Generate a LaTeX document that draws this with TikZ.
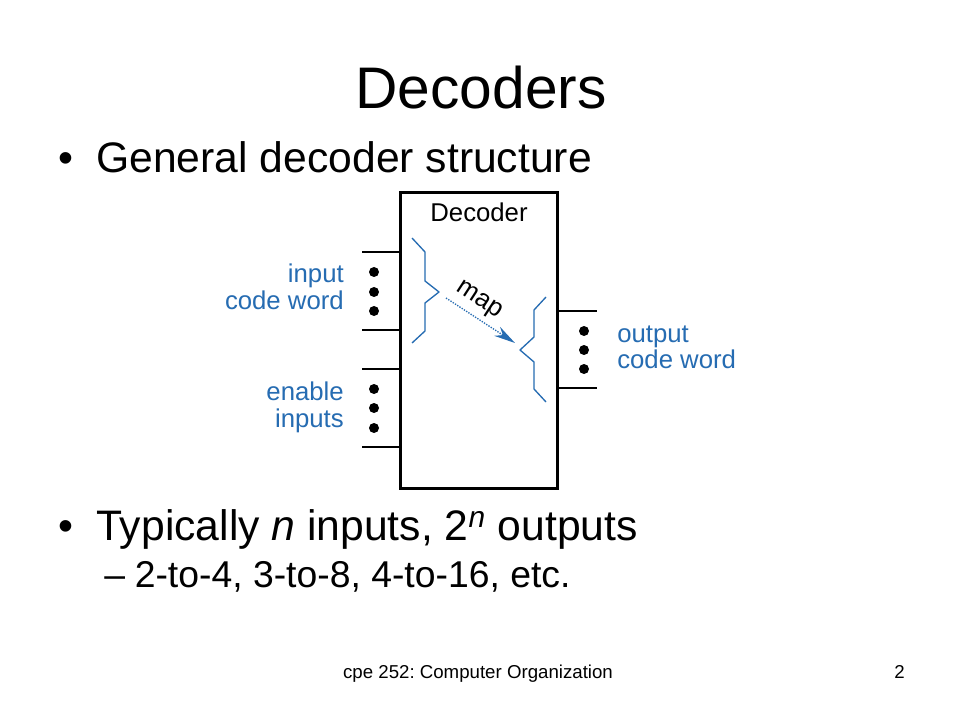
\documentclass[tikz,border=0pt]{standalone}
\usepackage{fontspec}
\setmainfont{Liberation Sans}
\usetikzlibrary{arrows.meta, calc}
\definecolor{codeblue}{RGB}{38,108,178}
\frenchspacing

\begin{document}
\begin{tikzpicture}[x=0.75pt, y=-0.75pt,
    slidetext/.style={inner sep=0pt, anchor=base west},
    lbl/.style={inner sep=0pt, text=codeblue, font=\fontsize{19.3}{20}\selectfont},
    wire/.style={line width=1.3pt},
    brace/.style={draw=codeblue, line width=1pt, line join=round}]
      \useasboundingbox (0,0) rectangle (960,720);
      \fill[white] (0,0) rectangle (960,720);

      % Slide title and bullets
      \node[anchor=base, inner sep=0pt, font=\fontsize{44}{50}\selectfont] (title) at (481,109) {Decoders};
      \node[slidetext, font=\fontsize{32}{38}\selectfont] (dotA) at (58,173) {•};
      \node[slidetext, font=\fontsize{32}{38}\selectfont] (itemA) at (96,173) {General decoder structure};
      \node[slidetext, font=\fontsize{32}{38}\selectfont] (dotB) at (58,540) {•};
      \node[slidetext, font=\fontsize{32}{38}\selectfont] (itemB) at (96,540) {Typically \textit{n} inputs, 2\textsuperscript{\textit{n}} outputs};
      \node[slidetext, font=\fontsize{28}{34}\selectfont] (dashC) at (104,587) {–};
      \node[slidetext, font=\fontsize{28}{34}\selectfont] (itemC) at (134.5,587) {2-to-4, 3-to-8, 4-to-16, etc.};

      % Decoder block
      \node[draw, line width=2.25pt, minimum width=117.75pt, minimum height=221.25pt] (dec) at (478.5,340.5) {};
      \node[anchor=base, inner sep=0pt, font=\fontsize{19.3}{20}\selectfont] (declbl) at (479,222) {Decoder};

      % Input and output wires
      \foreach \y [count=\i] in {252,330,369,447} {
        \coordinate (in\i) at (362,\y);
        \draw[wire] (in\i) -- (in\i -| dec.west);
      }
      \foreach \y [count=\i] in {311,388} {
        \coordinate (out\i) at (597,\y);
        \draw[wire] (out\i -| dec.east) -- (out\i);
      }

      % Dots between the wires
      \foreach \y in {272,292,311,389,408,428} \fill (374,\y) circle (5);
      \foreach \y in {331,350,369} \fill (584,\y) circle (5);

      % Wire labels
      \node[lbl, anchor=base east] (inA) at (344,283) {input};
      \node[lbl, anchor=base east] (inB) at (344,310) {code word};
      \node[lbl, anchor=base east] (enA) at (344,400) {enable};
      \node[lbl, anchor=base east] (enB) at (344,427) {inputs};
      \node[lbl, anchor=base west] (outA) at (617,342) {output};
      \node[lbl, anchor=base west] (outB) at (617,368) {code word};

      % Braces and the map arrow
      \draw[brace] (412,238) -- (425,252) -- (425,281) -- (439,292) -- (425,303) -- (425,331) -- (412,343);
      \draw[brace] (546,297) -- (534,310) -- (534,337) -- (520,350) -- (534,362) -- (534,389) -- (546,402);
      \coordinate (mapS) at (446,298);
      \coordinate (mapE) at (515,343);
      \draw[codeblue, line width=1pt, densely dotted, -{Stealth[length=16pt, width=8pt]}] (mapS) -- (mapE)
        node[pos=0.35, sloped, above, inner sep=4pt, text=black, font=\fontsize{19.3}{20}\selectfont] (maplbl) {map};

      % Footer
      \node[anchor=base, inner sep=0pt, font=\fontsize{14}{16}\selectfont] (foot) at (478,678) {cpe 252: Computer Organization};
      \node[anchor=base east, inner sep=0pt, font=\fontsize{14}{16}\selectfont] (pagenum) at (905,678) {2};
\end{tikzpicture}
\end{document}
